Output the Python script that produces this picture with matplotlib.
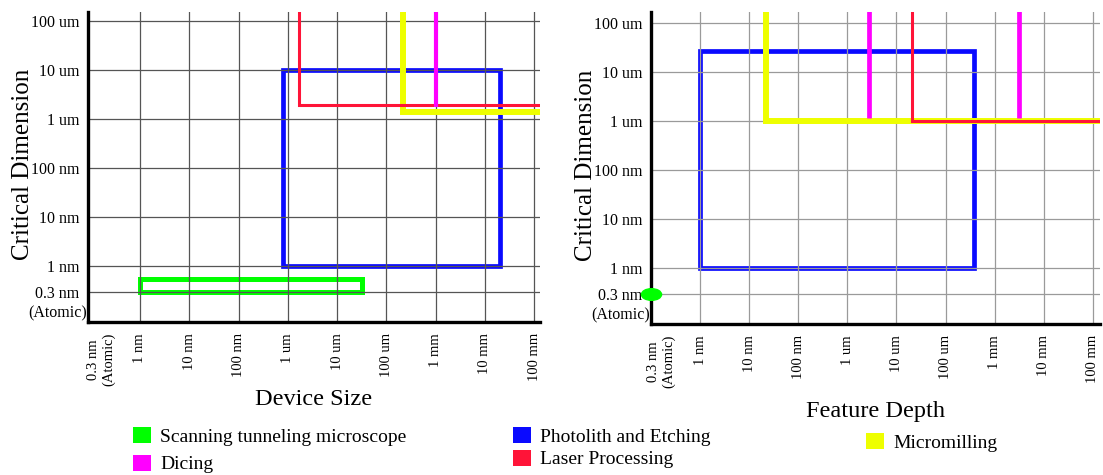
import numpy as np
import matplotlib.pyplot as plt
from matplotlib.patches import Rectangle, Patch
from matplotlib.path import Path
from matplotlib.transforms import Affine2D

plt.rcParams['font.family'] = ['Liberation Serif', 'DejaVu Serif']

# ejes (valores en nm)
y_ticks = [0.3, 1, 10, 100, 1e3, 1e4, 1e5]
y_labels = ['0.3 nm', '1 nm', '10 nm', '100 nm', '1 um', '10 um', '100 um']
x_ticks = [0.16, 1, 10, 100, 1e3, 1e4, 1e5, 1e6, 1e7, 1e8]
x_labels = ['0.3 nm\n(Atomic)', '1 nm', '10 nm', '100 nm', '1 um', '10 um',
            '100 um', '1 mm', '10 mm', '100 mm']

# colores
c_stm = '#00ff00'
c_dicing = '#ff00ff'
c_photo = '#0a0aff'
c_laser = '#ff1438'
c_mill = '#eeff00'

# Device Size (izquierda)
dev_stm_x = [1, 3.2e4]
dev_stm_y = [0.3, 0.55]
dev_photo_x = [800, 2e7]
dev_photo_y = [1, 1e4]
dev_laser = [1.7e3, 1.9e3]
dev_mill = [2.2e5, 1.4e3]
dev_dicing_x = [1e6]
dev_dicing_y = 1.7e3

# Feature Depth (derecha)
dep_stm = [0.1, 0.3]
dep_photo_x = [1, 3.8e5]
dep_photo_y = [1, 2.7e4]
dep_mill = [22, 1e3]
dep_laser = [2.1e4, 1e3]
dep_dicing_x = [2.8e3, 3.2e6]
dep_dicing_y = 1.15e3

TOP = 1e7
RIGHT = 1e10

fig = plt.figure(figsize=(11.03, 4.75), dpi=100)
W, H = 1103, 475
ax1 = fig.add_axes([88 / W, 1 - 322 / H, (540 - 88) / W, (322 - 12) / H])
ax2 = fig.add_axes([651 / W, 1 - 324 / H, (1100 - 651) / W, (324 - 12) / H])


def formato(ax, xlim, ylim, gcolor, xlabel, lpad):
    ax.set_xscale('log')
    ax.set_yscale('log')
    ax.set_xlim(*xlim)
    ax.set_ylim(*ylim)
    ax.set_xticks(x_ticks)
    ax.set_xticklabels(x_labels, rotation=90, fontsize=10.5)
    ax.set_yticks(y_ticks)
    ax.set_yticklabels(y_labels, fontsize=11.5)
    ax.minorticks_off()
    ax.tick_params(length=0)
    ax.tick_params(axis='x', pad=8)
    ax.tick_params(axis='y', pad=6)
    for lbl in ax.get_xticklabels():
        lbl.set_va('top')
    ax.annotate('(Atomic)', xy=(0, y_ticks[0]), xycoords=ax.get_yaxis_transform(),
                xytext=(-1, -16), textcoords='offset points', ha='right', va='center',
                fontsize=11.5)
    ax.grid(True, color=gcolor, linewidth=0.9)
    ax.get_xgridlines()[0].set_visible(False)
    for s in ['top', 'right']:
        ax.spines[s].set_visible(False)
    for s in ['left', 'bottom']:
        ax.spines[s].set_linewidth(2.4)
        ax.spines[s].set_zorder(5)
    ax.set_ylabel('Critical Dimension', fontsize=18)
    ax.yaxis.set_label_coords(-0.12, 0.51)
    ax.set_xlabel(xlabel, fontsize=17.5, labelpad=lpad)


formato(ax1, (0.088, 1.32e8), (0.072, 1.5e5), '#555555', 'Device Size', 2)
formato(ax2, (0.1, 1.4e8), (0.072, 1.7e5), '#9a9a9a', 'Feature Depth', 9)

kw = dict(solid_capstyle='butt', solid_joinstyle='miter')

# izquierda
ax1.plot([dev_mill[0], dev_mill[0], RIGHT], [TOP, dev_mill[1], dev_mill[1]], color=c_mill, lw=4.3, **kw)
ax1.plot([dev_laser[0], dev_laser[0], RIGHT], [TOP, dev_laser[1], dev_laser[1]], color=c_laser, lw=2.2, **kw)
for x in dev_dicing_x:
    ax1.plot([x, x], [TOP, dev_dicing_y], color=c_dicing, lw=3.0, **kw)
ax1.add_patch(Rectangle((dev_photo_x[0], dev_photo_y[0]), dev_photo_x[1] - dev_photo_x[0],
                        dev_photo_y[1] - dev_photo_y[0], fill=False, ec=c_photo, lw=3.4, joinstyle='miter'))
ax1.add_patch(Rectangle((dev_stm_x[0], dev_stm_y[0]), dev_stm_x[1] - dev_stm_x[0],
                        dev_stm_y[1] - dev_stm_y[0], fill=False, ec=c_stm, lw=3.6, joinstyle='miter'))

# derecha
ax2.plot([dep_mill[0], dep_mill[0], RIGHT], [TOP, dep_mill[1], dep_mill[1]], color=c_mill, lw=4.3, **kw)
for x in dep_dicing_x:
    ax2.plot([x, x], [TOP, dep_dicing_y], color=c_dicing, lw=3.4, **kw)
ax2.plot([dep_laser[0], dep_laser[0], RIGHT], [TOP, dep_laser[1], dep_laser[1]], color=c_laser, lw=2.2, **kw)
ax2.add_patch(Rectangle((dep_photo_x[0], dep_photo_y[0]), dep_photo_x[1] - dep_photo_x[0],
                        dep_photo_y[1] - dep_photo_y[0], fill=False, ec=c_photo, lw=3.4, joinstyle='miter'))
elipse = Affine2D().scale(1.0, 0.58).transform_path(Path.unit_circle())
ax2.plot([dep_stm[0]], [dep_stm[1]], marker=elipse, markersize=14.5, color=c_stm,
         linestyle='none', clip_on=False, zorder=6)

# leyenda
def leyenda(items, x, y, spacing):
    handles = [Patch(facecolor=c, edgecolor='none') for c, _ in items]
    fig.legend(handles, [t for _, t in items], loc='upper left',
               bbox_to_anchor=(x / W, 1 - y / H), frameon=False, fontsize=14,
               handlelength=0.9, handleheight=0.9, handletextpad=0.5,
               labelspacing=spacing, borderpad=0, borderaxespad=0)


leyenda([(c_stm, 'Scanning tunneling microscope'), (c_dicing, 'Dicing')], 133, 427, 0.45)
leyenda([(c_photo, 'Photolith and Etching'), (c_laser, 'Laser Processing')], 513, 427, 0.2)
leyenda([(c_mill, 'Micromilling')], 866, 433, 0.3)

plt.savefig('out.png', dpi=100)
